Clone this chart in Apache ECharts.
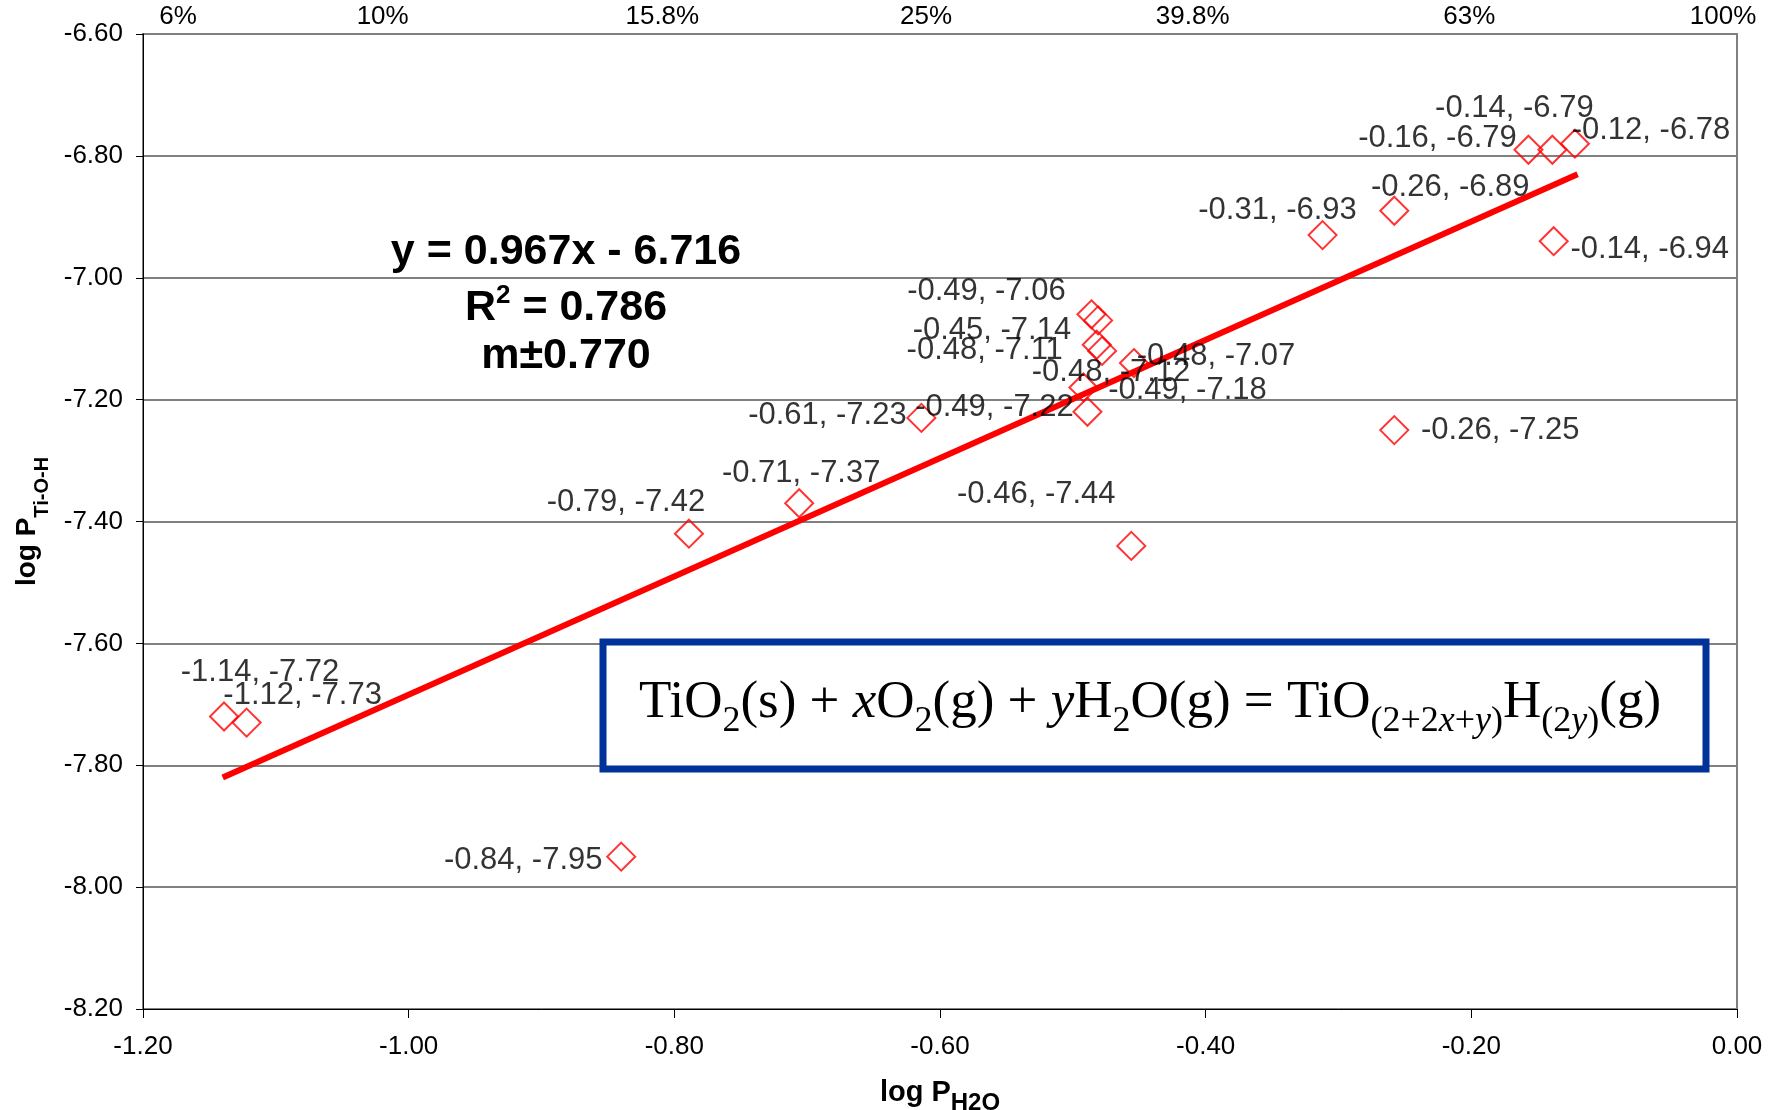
<!DOCTYPE html>
<html><head><meta charset="utf-8">
<script src="https://cdn.jsdelivr.net/npm/echarts@6/dist/echarts.min.js"></script>
<style>html,body{margin:0;padding:0;background:#fff}#c{width:1777px;height:1110px}</style>
</head><body><div id="c"></div>
<script>
// ---- data ----
const xValues = [-1.139,-1.122,-0.840,-0.789,-0.706,-0.614,-0.489,-0.492,-0.478,-0.482,-0.454,-0.486,-0.481,-0.456,-0.312,-0.258,-0.258,-0.157,-0.139,-0.122,-0.138];
const yValues = [-7.72,-7.73,-7.95,-7.42,-7.37,-7.23,-7.22,-7.18,-7.12,-7.11,-7.14,-7.06,-7.07,-7.44,-6.93,-6.89,-7.25,-6.79,-6.79,-6.78,-6.94];
const trendX = [-1.14, -0.12];
const trendY = [-7.82, -6.83];
const topTickLabels = ['6%','10%','15.8%','25%','39.8%','63%','100%'];
const fitEquation = 'y = 0.967x - 6.716';
const fitR2 = '0.786';
const fitM = 'm\u00b10.770';

// ---- presentation config ----
const labelOffsets = [[36,-44],[56,-27],[-98,4],[-63,-31],[2,-30],[-94,-2],[-93,-4],[104,3],[9,22],[-112,6],[-142,-33],[-105,-23],[118,36],[-95,-51],[-45,-25],[56,-23],[106,0],[-91,-11],[-38,-41],[76,-13],[96,8]];
const topLabelShift = [35,-26,-12,-14,-13,-2,-14];
const SANS = '"Liberation Sans", Arial, sans-serif';
const SERIF = '"Liberation Serif", "Times New Roman", serif';

const topRich = {};
topLabelShift.forEach((d,i)=>{
  topRich['t'+i] = {fontSize:26, fontFamily:SANS, color:'#000',
    padding: d>=0 ? [0,0,0,2*d] : [0,-2*d,0,0]};
});

const scatterData = xValues.map((x,i)=>[x, yValues[i]]);

const chart = echarts.init(document.getElementById('c'), null, {renderer:'canvas'});
chart.setOption({
  animation:false,
  backgroundColor:'#fff',
  textStyle:{fontFamily:SANS},
  grid:{left:143, right:40, top:34, bottom:101, show:true, borderColor:'#808080', borderWidth:2, backgroundColor:'transparent',
        containLabel:false, outerBoundsMode:'none'},
  xAxis:[{
    type:'value', position:'bottom', min:-1.2, max:0, interval:0.2,
    axisLine:{show:true, onZero:false, lineStyle:{color:'#000', width:1}},
    axisTick:{show:true, length:9, lineStyle:{color:'#000'}},
    splitLine:{show:false},
    axisLabel:{color:'#000', fontSize:26, margin:25, formatter:v=>v.toFixed(2)},
    name:'{a|log P}{b|H2O}', nameLocation:'middle', nameGap:69,
    nameTextStyle:{rich:{
      a:{fontSize:29, fontWeight:'bold', color:'#000', fontFamily:SANS, lineHeight:34, verticalAlign:'top'},
      b:{fontSize:24, fontWeight:'bold', color:'#000', fontFamily:SANS, lineHeight:24, verticalAlign:'top', padding:[13,0,0,0]}
    }}
  },{
    type:'value', position:'top', min:-1.2, max:0, interval:0.2,
    axisLine:{show:false}, axisTick:{show:false}, splitLine:{show:false},
    axisLabel:{margin:4, fontSize:26, color:'#000',
      formatter:v=>{const i=Math.round((v+1.2)/0.2); return '{t'+i+'|'+topTickLabels[i]+'}';},
      rich:topRich}
  }],
  yAxis:{
    type:'value', min:-8.2, max:-6.6, interval:0.2,
    axisLine:{show:true, onZero:false, lineStyle:{color:'#000', width:1}},
    axisTick:{show:true, length:7, lineStyle:{color:'#000'}},
    splitLine:{show:true, lineStyle:{color:'#808080', width:2}},
    axisLabel:{color:'#000', fontSize:26, margin:20, formatter:v=>v.toFixed(2)},
    name:'{a|log P}{b|Ti-O-H}', nameLocation:'middle', nameGap:86, nameRotate:90,
    nameTextStyle:{rich:{
      a:{fontSize:28, fontWeight:'bold', color:'#000', fontFamily:SANS, lineHeight:32, verticalAlign:'top'},
      b:{fontSize:20, fontWeight:'bold', color:'#000', fontFamily:SANS, lineHeight:20, verticalAlign:'top', padding:[20,0,0,0]}
    }}
  },
  series:[{
    type:'line', xAxisIndex:0, data:trendX.map((x,i)=>[x,trendY[i]]),
    symbol:'none', lineStyle:{color:'#ff0000', width:6}, z:2, silent:true
  },{
    type:'scatter', xAxisIndex:0, data:scatterData, symbol:'diamond', symbolSize:28,
    itemStyle:{color:'rgba(255,255,255,0)', borderColor:'#ff0000', borderWidth:2},
    label:{show:true, position:'inside', color:'#000', fontSize:31, fontFamily:SANS,
      formatter:p=>p.value[0].toFixed(2)+', '+p.value[1].toFixed(2)},
    labelLayout:p=>({dx:labelOffsets[p.dataIndex][0], dy:labelOffsets[p.dataIndex][1], hideOverlap:false}),
    z:3
  }],
  graphic:[
    {type:'text', z:50, style:{text:fitEquation, x:566, y:252, align:'center', verticalAlign:'middle', textAlign:'center', textVerticalAlign:'middle',
      fontSize:43, fontWeight:'bold', fontFamily:SANS, fill:'#000'}},
    {type:'text', z:50, style:{text:'{a|R}{b|2}{a| = '+fitR2+'}', x:566, y:308, align:'center', verticalAlign:'middle', textAlign:'center', textVerticalAlign:'middle',
      rich:{a:{fontSize:43, fontWeight:'bold', fontFamily:SANS, fill:'#000', lineHeight:50},
            b:{fontSize:26, fontWeight:'bold', fontFamily:SANS, fill:'#000', lineHeight:24, verticalAlign:'top'}}}},
    {type:'text', z:50, style:{text:fitM, x:566, y:356, align:'center', verticalAlign:'middle', textAlign:'center', textVerticalAlign:'middle',
      fontSize:43, fontWeight:'bold', fontFamily:SANS, fill:'#000'}},
    {type:'rect', z:50, shape:{x:603, y:642, width:1103, height:127}, style:{fill:'#fff', stroke:'#003399', lineWidth:7}},
    {type:'text', z:51, style:{
      text:'{m|TiO}{s|2}{m|(s) + }{mi|x}{m|O}{s|2}{m|(g) + }{mi|y}{m|H}{s|2}{m|O(g) = TiO}{s|(2+2}{si|x}{s|+}{si|y}{s|)}{m|H}{s|(2}{si|y}{s|)}{m|(g)}',
      x:1150, y:709, align:'center', verticalAlign:'middle', textAlign:'center', textVerticalAlign:'middle',
      rich:{
        m:{fontSize:53, fontFamily:SERIF, fill:'#000', lineHeight:64, verticalAlign:'top'},
        mi:{fontSize:53, fontFamily:SERIF, fontStyle:'italic', fill:'#000', lineHeight:64, verticalAlign:'top'},
        s:{fontSize:36, fontFamily:SERIF, fill:'#000', lineHeight:36, verticalAlign:'top', padding:[27,0,0,0]},
        si:{fontSize:36, fontFamily:SERIF, fontStyle:'italic', fill:'#000', lineHeight:36, verticalAlign:'top', padding:[27,0,0,0]}
      }}}
  ]
});
</script></body></html>
